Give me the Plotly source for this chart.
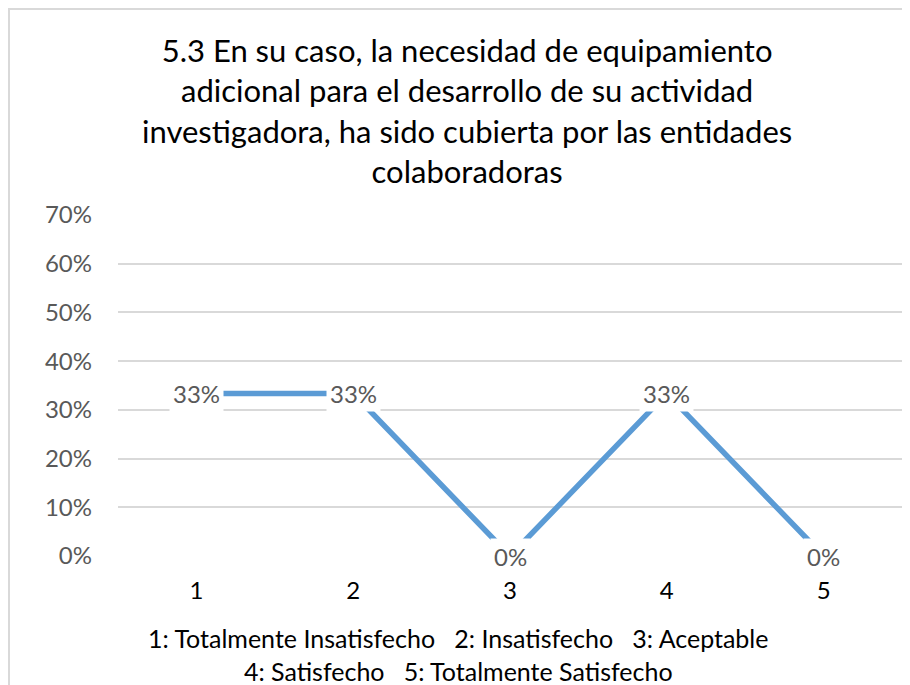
import plotly.graph_objects as go

categories = ["1", "2", "3", "4", "5"]
values = [1/3, 1/3, 0, 1/3, 0]
labels = ["33%", "33%", "0%", "33%", "0%"]
yticks = [0, 0.1, 0.2, 0.3, 0.4, 0.5, 0.6, 0.7]
yticklabels = ["0%", "10%", "20%", "30%", "40%", "50%", "60%", "70%"]
title_lines = ["5.3 En su caso, la necesidad de equipamiento",
               "adicional para el desarrollo de su actividad",
               "investigadora, ha sido cubierta por las entidades",
               "colaboradoras"]
footer_lines = ["1: Totalmente Insatisfecho   2: Insatisfecho   3: Aceptable",
                "4: Satisfecho   5: Totalmente Satisfecho"]

font = "Lato"
# page body has an 8px margin, so the figure starts at (8, 8) in the window
W, H = 902, 677
L, R, T, B = 110, 8, 207, 129
xs = list(range(len(categories)))
pw, ph = W - L - R, H - T - B

fig = go.Figure()
fig.add_trace(go.Scatter(x=xs, y=values, mode="lines",
                         line=dict(color="#5B9BD5", width=5.5), hoverinfo="skip"))

for i, v, t in zip(xs, values, labels):
    fig.add_annotation(x=i, y=v, text=t, showarrow=False, bgcolor="white",
                       font=dict(family=font, size=24, color="#595959"),
                       borderpad=3)

fig.add_annotation(xref="paper", yref="paper", x=(459 - L) / pw,
                   y=1 + (T - 21) / ph, yanchor="top",
                   text="<br>".join(title_lines), showarrow=False,
                   font=dict(family=font, size=31, color="#000000"))
fig.add_annotation(xref="paper", yref="paper", x=(450 - L) / pw,
                   y=-(613 - (H - B)) / ph, yanchor="top",
                   text="<br>".join(footer_lines), showarrow=False,
                   font=dict(family=font, size=25, color="#000000"))

# chart border (top and left edges)
fig.add_shape(type="line", xref="paper", yref="paper",
              x0=-L / pw, x1=1 + R / pw, y0=1 + T / ph, y1=1 + T / ph,
              line=dict(color="#d9d9d9", width=4))
fig.add_shape(type="line", xref="paper", yref="paper",
              x0=-L / pw, x1=-L / pw, y0=-B / ph, y1=1 + T / ph,
              line=dict(color="#d9d9d9", width=4))

fig.update_layout(
    width=W, height=H,
    margin=dict(l=L, r=R, t=T, b=B),
    paper_bgcolor="white", plot_bgcolor="white",
    showlegend=False,
    xaxis=dict(range=[-0.5, len(categories) - 0.5], tickvals=xs, ticktext=categories,
               showgrid=False, zeroline=False, showline=False, automargin=False,
               ticks="", tickfont=dict(family=font, size=24, color="#000000"),
               ticklabelstandoff=18),
    yaxis=dict(range=[0, 0.7], tickvals=yticks, ticktext=yticklabels,
               showgrid=True, gridcolor="#d9d9d9", gridwidth=1.5, zeroline=False,
               showline=False, automargin=False, ticks="",
               tickfont=dict(family=font, size=24, color="#595959"),
               ticklabelstandoff=25),
)

fig.write_html("out.html")
